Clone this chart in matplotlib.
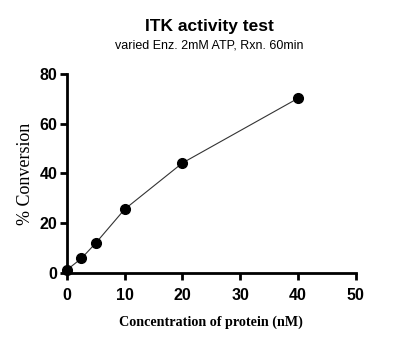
import matplotlib as mpl
mpl.use("Agg")
import matplotlib.pyplot as plt

conc = [0, 2.5, 5, 10, 20, 40]
conversion = [1.2, 5.8, 12.0, 25.6, 44.2, 70.2]
xticks = [0, 10, 20, 30, 40, 50]
yticks = [0, 20, 40, 60, 80]

fig = plt.figure(figsize=(4.03, 3.39), dpi=100)
ax = fig.add_axes([0.166, 0.195, 0.717, 0.587])

ax.plot(conc, conversion, color="#333333", lw=0.8, marker="o", ms=7,
        mfc="black", mec="black", clip_on=False, zorder=3)

ax.set_xlim(0, 50)
ax.set_ylim(0, 80)
ax.set_xticks(xticks)
ax.set_yticks(yticks)
for s in ["top", "right"]:
    ax.spines[s].set_visible(False)
for s in ["left", "bottom"]:
    ax.spines[s].set_linewidth(2)
ax.tick_params(width=2, length=5, direction="out")
ax.tick_params(axis="x", pad=6)
ax.tick_params(axis="y", pad=2)
for lab in ax.get_xticklabels() + ax.get_yticklabels():
    lab.set_fontfamily("Liberation Sans")
    lab.set_fontweight("bold")
    lab.set_fontsize(11.5)

ax.set_xlabel("Concentration of protein (nM)", family="Liberation Serif",
              fontweight="bold", fontsize=10.2, labelpad=9)
ax.set_ylabel("% Conversion", family="Liberation Serif", fontsize=13,
              labelpad=4)

fig.text(0.52, 0.922, "ITK activity test", ha="center", va="center",
         family="Liberation Sans", fontweight="bold", fontsize=12.5)
fig.text(0.52, 0.866, "varied Enz. 2mM ATP, Rxn. 60min", ha="center",
         va="center", family="Liberation Sans", fontsize=9)

fig.savefig("out.png", dpi=100)
